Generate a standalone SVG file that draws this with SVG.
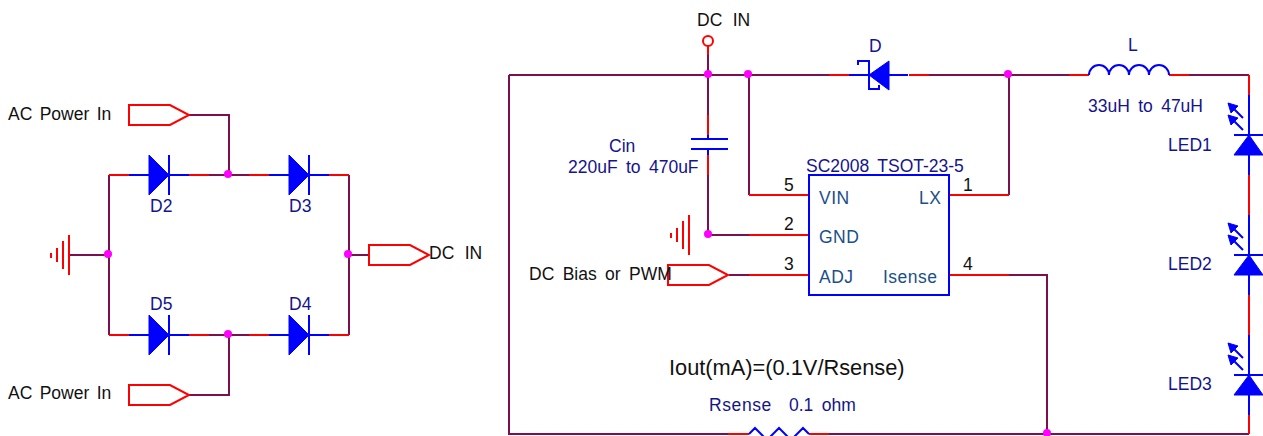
<svg xmlns="http://www.w3.org/2000/svg" width="1263" height="436" viewBox="0 0 1263 436">
<style>
text{font-family:"Liberation Sans",Arial,sans-serif;font-size:17.5px;word-spacing:3.5px}
.k{fill:#111}
.n{fill:#14148c}
.p{fill:#1a4f8a;letter-spacing:.5px}
.ac{word-spacing:2.5px}
.dc{word-spacing:5.5px}
.d{fill:none;stroke:#7b0f4f;stroke-width:2}
.r{fill:none;stroke:#ff0000;stroke-width:2}
.b{fill:none;stroke:#0000ff;stroke-width:2}
.f{fill:#0000ff;stroke:#0000ff;stroke-width:1}
.j{fill:#ff00ff}
</style>
<defs>
<g id="port"><path class="r" d="M0 -10H41L60 0L41 10H0Z"/></g>
<g id="diode"><path class="b" d="M-20 0H0M20 0H40M20 -20V20"/><path class="f" d="M0 -20L20 0L0 20Z"/><path class="r" d="M-40 0H-20M40 0H60"/></g>
<g id="gnd"><path class="r" d="M0 -20V20M-6 -14V14M-12 -7V7M-18 -2V3"/></g>
<g id="led"><path class="b" d="M0 -40V0M-15 0H14M0 20V40"/><path class="f" d="M0 0L-15 20H14Z"/><path class="b" d="M-6 -17L-20 -31M-6 -5L-20 -19"/><path class="f" d="M-21 -32L-11 -29L-18 -22ZM-21 -20L-11 -17L-18 -10Z"/></g>
</defs>
<g id="connectors">
<path class="d" d="M189 115H229V175M109 175V335M69 255H109M209 175H249M349 175V335M349 255H369M229 335V395H189M209 335H249"/>
<path class="d" d="M509 75H829M509 75V434H728M829 434H1249M708 55V115M708 175V235H749M749 75V195M929 75H1069M1189 75H1249M1009 75V195M729 275H749M1009 275H1047V434"/>
<path class="r" d="M109 175H129M189 175H209M249 175H269M329 175H349M109 335H129M189 335H209M249 335H269M329 335H349"/>
<path class="r" d="M829 75H849M909 75H929M1069 75H1089M1169 75H1189M708 46V55M708 115V135M708 155V175M749 195H809M749 235H809M749 275H809M949 195H1009M949 275H1009M728 434H749M809 434H829M1249 75V95M1249 175V215M1249 295V335M1249 415V434"/>
</g>
<g id="AC1"><use href="#port" x="129" y="115"/><text class="k ac" x="8" y="120">AC Power In</text></g>
<g id="AC2"><use href="#port" x="129" y="395"/><text class="k ac" x="8" y="399">AC Power In</text></g>
<g id="DCOUT"><use href="#port" x="369" y="255"/><text class="k dc" x="429" y="259">DC IN</text></g>
<g id="GND1"><use href="#gnd" x="69" y="255"/></g>
<g id="D2"><use href="#diode" x="149" y="175"/><text class="n" x="150" y="212">D2</text></g>
<g id="D3"><use href="#diode" x="289" y="175"/><text class="n" x="289" y="212">D3</text></g>
<g id="D5"><use href="#diode" x="149" y="335"/><text class="n" x="150" y="310">D5</text></g>
<g id="D4"><use href="#diode" x="289" y="335"/><text class="n" x="289" y="310">D4</text></g>
<g id="DCIN"><circle cx="708" cy="41" r="5" fill="none" stroke="#ff0000" stroke-width="2"/><text class="k dc" x="697" y="26">DC IN</text></g>
<g id="Cin"><path class="b" d="M708 135V139M691 139H728M691 149H728M708 149V155"/><text class="n" x="609" y="152">Cin</text><text class="n" x="568" y="173">220uF to 470uF</text></g>
<g id="D"><path class="b" d="M849 75H908M858 65V61H869V89H879V85"/><path class="f" d="M869 75L889 61V90Z"/><text class="n" x="869" y="52">D</text></g>
<g id="L"><path class="b" d="M1089 75A10 10 0 0 1 1109 75A10 10 0 0 1 1129 75A10 10 0 0 1 1149 75A10 10 0 0 1 1169 75"/><text class="n" x="1128" y="51">L</text><text class="n" x="1088" y="112">33uH to 47uH</text></g>
<g id="LED1"><use href="#led" x="1249" y="135"/><text class="n" x="1168" y="151">LED1</text></g>
<g id="LED2"><use href="#led" x="1249" y="255"/><text class="n" x="1168" y="270">LED2</text></g>
<g id="LED3"><use href="#led" x="1249" y="375"/><text class="n" x="1168" y="390">LED3</text></g>
<g id="GND2"><use href="#gnd" x="689" y="235"/></g>
<g id="PWM"><use href="#port" x="668" y="275"/><text class="k" x="529" y="280">DC Bias or PWM</text></g>
<g id="U1"><rect class="b" x="809" y="175" width="140" height="120"/>
<text class="n" x="806" y="172">SC2008 TSOT-23-5</text>
<text class="p" x="819" y="204">VIN</text><text class="p" x="819" y="243">GND</text><text class="p" x="819" y="283">ADJ</text><text class="p" x="919" y="204">LX</text><text class="p" x="883" y="283">Isense</text>
<text class="k" x="784" y="191">5</text><text class="k" x="784" y="230">2</text><text class="k" x="784" y="270">3</text><text class="k" x="963" y="191">1</text><text class="k" x="963" y="270">4</text></g>
<g id="Rsense"><path class="b" d="M749 434L755 428L767 440L779 428L791 440L803 428L809 434"/><text class="n" x="709" y="411" style="letter-spacing:.6px">Rsense</text><text class="n" x="789" y="411">0.1 ohm</text></g>
<g id="Formula"><text class="k" x="669" y="375" style="font-size:21.8px;word-spacing:0">Iout(mA)=(0.1V/Rsense)</text></g>
<g id="junctions" class="j"><circle cx="228" cy="174" r="4"/><circle cx="108" cy="254" r="4"/><circle cx="348" cy="254" r="4"/><circle cx="228" cy="334" r="4"/><circle cx="708" cy="74" r="4"/><circle cx="748" cy="74" r="4"/><circle cx="1008" cy="74" r="4"/><circle cx="708" cy="234" r="4"/><circle cx="1047" cy="433" r="4"/></g>
</svg>
